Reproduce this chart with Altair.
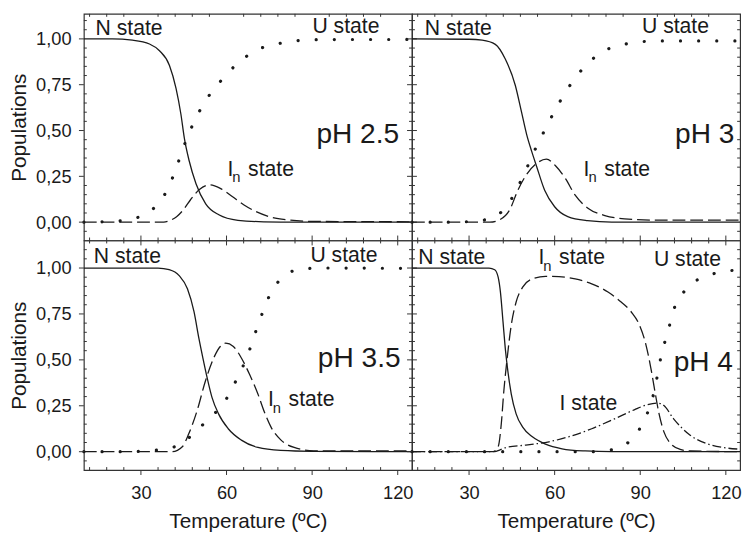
import altair as alt
import pandas as pd

FONT = "Liberation Sans"
INK = "#1a1a1a"
FRAME = "#333333"

# ---------------- axes ----------------
X_DOMAIN = [10, 125]
X_MAJOR = [30, 60, 90, 120]
X_MINOR = [12, 18, 24, 36, 42, 48, 54, 66, 72, 78, 84, 96, 102, 108, 114]
Y_MAJOR = [0.0, 0.25, 0.5, 0.75, 1.0]
Y_MINOR = [-0.05, 0.05, 0.1, 0.15, 0.2, 0.3, 0.35, 0.4, 0.45, 0.55, 0.6, 0.65,
           0.7, 0.8, 0.85, 0.9, 0.95, 1.05, 1.1]

# ---------------- pH 2.5 ----------------
T_N_25 = [10, 20, 27, 33, 36.5, 40, 42.3, 44, 45.2, 46.9, 49.3, 52.7, 57.3, 64, 73, 85, 125]
N_25 = [1.0, 1.0, 0.993, 0.972, 0.935, 0.855, 0.73, 0.59, 0.46, 0.335, 0.21, 0.10, 0.04, 0.01, 0.002, 0.0, 0.0]
T_IN_25 = [10, 38, 40, 42.5, 45, 47.5, 50.5, 54.2, 58, 62, 66, 70, 75, 81, 90, 125]
IN_25 = [0, 0, 0.008, 0.03, 0.07, 0.125, 0.178, 0.204, 0.183, 0.14, 0.095, 0.06, 0.03, 0.013, 0.004, 0.002]
T_U_25 = [10, 16.6, 22.7, 28.2, 33.1, 37.0, 39.9, 42.3, 44.5, 46.9, 49.5, 52.4, 55.7, 59.5,
          63.2, 67.2, 71.9, 77.3, 82.7, 89.0, 95.2, 125]
U_25 = [0, 0.002, 0.007, 0.022, 0.059, 0.118, 0.199, 0.292, 0.391, 0.487, 0.575, 0.656, 0.729,
        0.796, 0.857, 0.907, 0.948, 0.971, 0.986, 0.995, 0.996, 0.997]

# ---------------- pH 3 ----------------
T_N_3 = [10, 30, 34.6, 39.2, 42.7, 46.2, 48.4, 50.2, 51.9, 53.6, 56.5, 60, 64.6, 71.5, 80, 125]
N_3 = [1.0, 0.998, 0.993, 0.97, 0.89, 0.747, 0.60, 0.478, 0.389, 0.308, 0.174, 0.084, 0.03, 0.008, 0.0, 0.0]
T_IN_3 = [10, 37.3, 40.7, 44.2, 47.1, 49.9, 53.4, 57.1, 60.3, 63.8, 67.2, 71.8, 77.6, 84.5, 96, 125]
IN_3 = [0, 0, 0.013, 0.066, 0.174, 0.254, 0.317, 0.344, 0.308, 0.237, 0.147, 0.075, 0.036, 0.018, 0.011, 0.011]
T_U_3 = [10, 16.3, 22.7, 29.0, 35.0, 40.2, 43.8, 46.8, 49.6, 52.2, 54.8, 57.7, 60.6, 63.6,
         66.9, 70.3, 74.7, 79.2, 84.5, 90.2, 96.6, 125]
U_3 = [0, 0, 0, 0.002, 0.011, 0.041, 0.10, 0.183, 0.272, 0.366, 0.448, 0.539, 0.622, 0.706,
       0.778, 0.846, 0.907, 0.948, 0.971, 0.984, 0.989, 0.989]

# ---------------- pH 3.5 ----------------
T_N_35 = [10, 36, 39.9, 43.4, 46.3, 48.6, 50.3, 51.7, 53.2, 54.9, 57.2, 60.6, 65.2, 71, 79, 90, 125]
N_35 = [1.0, 1.0, 0.991, 0.959, 0.887, 0.762, 0.618, 0.511, 0.403, 0.296, 0.206, 0.125, 0.063,
        0.023, 0.007, 0.002, 0.0]
T_IN_35 = [10, 41, 44.5, 46.8, 49.7, 52.6, 55.5, 57.8, 59.7, 62.4, 65.2, 68.1, 71, 73.3, 75.6,
           79.1, 83.7, 90.6, 125]
IN_35 = [0, 0, 0.027, 0.099, 0.224, 0.385, 0.51, 0.573, 0.591, 0.573, 0.51, 0.42, 0.314, 0.215,
         0.134, 0.063, 0.023, 0.005, 0.004]
T_U_35 = [10, 16.7, 23.0, 29.3, 35.6, 41.1, 45.9, 49.7, 54.0, 57.5, 61.0, 63.6, 66.5, 68.8,
          70.9, 73.2, 75.7, 79.1, 83.3, 89.4, 95.5, 125]
U_35 = [0, 0, 0, 0.002, 0.009, 0.023, 0.063, 0.12, 0.179, 0.238, 0.314, 0.396, 0.491, 0.586,
        0.685, 0.78, 0.871, 0.941, 0.984, 0.998, 1.0, 0.998]

# ---------------- pH 4 ----------------
T_N_4 = [10, 37, 39, 40.2, 41.0, 41.9, 42.8, 43.6, 44.8, 46.5, 48.8, 52.2, 56.8, 62.6, 70.7, 80, 125]
N_4 = [1.0, 1.0, 0.991, 0.95, 0.869, 0.708, 0.547, 0.439, 0.314, 0.206, 0.134, 0.081, 0.041,
       0.016, 0.004, 0.0, 0.0]
T_IN_4 = [10, 38.4, 40.2, 41.3, 42.2, 43.3, 44.8, 46.5, 48.8, 52.2, 56.8, 61.5, 67.2, 73, 78.7,
          83.3, 86.8, 89.7, 92, 93.7, 95.1, 96.6, 98.3, 100.6, 104, 107.5, 125]
IN_4 = [0, 0, 0.027, 0.152, 0.332, 0.50, 0.69, 0.815, 0.896, 0.941, 0.955, 0.953, 0.941, 0.914,
        0.869, 0.815, 0.762, 0.69, 0.582, 0.457, 0.332, 0.206, 0.108, 0.045, 0.013, 0.004, 0.0]
T_I_4 = [10, 39, 40.7, 43, 49.9, 58, 64.9, 73, 81, 87.9, 92.5, 96, 98.3, 101.7, 107.5, 113.2, 119, 124.6]
I_4 = [0, 0, 0.009, 0.023, 0.036, 0.054, 0.081, 0.125, 0.179, 0.228, 0.256, 0.265, 0.251, 0.179,
       0.09, 0.045, 0.023, 0.014]
T_U_4 = [10, 16.3, 73.3, 79.4, 84.7, 88.6, 91.5, 94.0, 95.5, 96.7, 98.2, 100.0, 101.7, 104.6,
         108.4, 114.2, 120.7, 125]
U_4 = [0, 0, 0, 0.009, 0.038, 0.095, 0.177, 0.274, 0.373, 0.475, 0.573, 0.672, 0.771, 0.855,
       0.918, 0.962, 0.984, 0.99]

# ---------------- annotations (T, value) ----------------
LBL_25 = [("N state", 14.1, 1.02), ("U state", 90.1, 1.03)]
PH_25 = [("pH 2.5", 120.5, 0.434)]
IN_LBL_25 = [(60.3, 0.254)]

LBL_3 = [("N state", 14.5, 1.02), ("U state", 90.6, 1.03)]
PH_3 = [("pH 3", 123.0, 0.434)]
IN_LBL_3 = [(70.1, 0.254)]

LBL_35 = [("N state", 13.5, 1.027), ("U state", 89.4, 1.034)]
PH_35 = [("pH 3.5", 121.0, 0.46)]
IN_LBL_35 = [(74.5, 0.25)]

LBL_4 = [("N state", 12.2, 1.02), ("U state", 94.8, 1.013), ("I state", 61.7, 0.228)]
PH_4 = [("pH 4", 122.5, 0.44)]
IN_LBL_4 = [(54.3, 1.02)]

W = 333
SOLID = dict(strokeWidth=1.3)
DASHED = dict(strokeWidth=1.3, strokeDash=[13, 5])
DASHDOT = dict(strokeWidth=1.3, strokeDash=[9, 3, 1.5, 3])
DOTTED = dict(strokeWidth=3.2, strokeDash=[0.1, 18.3], strokeCap="round")
NO_PAD = {"left": 0, "right": 0, "top": 0, "bottom": 0}


def make_panel(curves, labels, ph, in_lbl, row, col):
    H = 230 if row == 0 else 233
    ydom = [-0.1, 1.1366] if row == 0 else [-0.1, 1.15]
    xs = alt.Scale(domain=X_DOMAIN, nice=False, zero=False)
    ys = alt.Scale(domain=ydom, nice=False, zero=False)
    if row == 1:
        xaxis = alt.Axis(values=X_MAJOR, ticks=False, tickSize=0, domain=False, grid=False,
                         labelFont=FONT, labelFontSize=18.5, labelColor=INK, labelPadding=14,
                         title="Temperature (ºC)", titleFont=FONT, titleFontSize=21,
                         titleFontWeight="normal", titleColor=INK, titlePadding=9)
    else:
        xaxis = None
    if col == 0:
        yaxis = alt.Axis(values=Y_MAJOR, ticks=False, tickSize=0, domain=False, grid=False,
                         labelFont=FONT, labelFontSize=18.5, labelColor=INK, labelPadding=13,
                         labelExpr="replace(format(datum.value, '.2f'), '.', ',')",
                         title="Populations", titleFont=FONT, titleFontSize=21,
                         titleFontWeight="normal", titleColor=INK, titlePadding=6)
    else:
        yaxis = None
    xenc = alt.X("T:Q", scale=xs, axis=xaxis)
    yenc = alt.Y("v:Q", scale=ys, axis=yaxis)

    layers = []
    for T, v, style in curves:
        df = pd.DataFrame({"T": T, "v": v})
        layers.append(alt.Chart(df).mark_line(color=INK, interpolate="monotone", **style)
                      .encode(x=xenc, y=yenc))

    # tick marks: major outward, minor inward, on all four sides
    xmaj = pd.DataFrame({"T": X_MAJOR})
    xmin = pd.DataFrame({"T": X_MINOR})
    ymaj = pd.DataFrame({"v": Y_MAJOR})
    ymin = pd.DataFrame({"v": Y_MINOR})
    rk = dict(color=FRAME, strokeWidth=1)
    layers += [
        alt.Chart(xmaj).mark_rule(**rk).encode(x=xenc, y=alt.value(H), y2=alt.value(H + 5)),
        alt.Chart(xmin).mark_rule(**rk).encode(x=xenc, y=alt.value(H - 3), y2=alt.value(H)),
        alt.Chart(xmin).mark_rule(**rk).encode(x=xenc, y=alt.value(0), y2=alt.value(3)),
        alt.Chart(ymaj).mark_rule(**rk).encode(y=yenc, x=alt.value(-5), x2=alt.value(0)),
        alt.Chart(ymin).mark_rule(**rk).encode(y=yenc, x=alt.value(0), x2=alt.value(3)),
        alt.Chart(ymin).mark_rule(**rk).encode(y=yenc, x=alt.value(W - 3), x2=alt.value(W)),
    ]
    if row == 1:
        layers.append(alt.Chart(xmaj).mark_rule(**rk).encode(x=xenc, y=alt.value(-5), y2=alt.value(0)))
    if col == 0:
        layers.append(alt.Chart(ymaj).mark_rule(**rk).encode(y=yenc, x=alt.value(W), x2=alt.value(W + 5)))

    # text annotations
    ldf = pd.DataFrame(labels, columns=["label", "T", "v"])
    layers.append(alt.Chart(ldf).mark_text(font=FONT, fontSize=21.5, align="left",
                                            baseline="alphabetic", color=INK)
                  .encode(x=xenc, y=yenc, text="label:N"))
    pdf = pd.DataFrame(ph, columns=["label", "T", "v"])
    layers.append(alt.Chart(pdf).mark_text(font=FONT, fontSize=28.5, align="right",
                                            baseline="alphabetic", color=INK)
                  .encode(x=xenc, y=yenc, text="label:N"))
    idf = pd.DataFrame(in_lbl, columns=["T", "v"])
    idf["a"] = "I"
    idf["b"] = "n"
    idf["c"] = "state"
    layers.append(alt.Chart(idf).mark_text(font=FONT, fontSize=21.5, align="left",
                                            baseline="alphabetic", color=INK)
                  .encode(x=xenc, y=yenc, text="a:N"))
    layers.append(alt.Chart(idf).mark_text(font=FONT, fontSize=15, align="left",
                                            baseline="alphabetic", color=INK, dx=5, dy=7)
                  .encode(x=xenc, y=yenc, text="b:N"))
    layers.append(alt.Chart(idf).mark_text(font=FONT, fontSize=21.5, align="left",
                                            baseline="alphabetic", color=INK, dx=21)
                  .encode(x=xenc, y=yenc, text="c:N"))

    return alt.layer(*layers).properties(width=W, height=H)


p25 = make_panel([(T_N_25, N_25, SOLID), (T_IN_25, IN_25, DASHED), (T_U_25, U_25, DOTTED)],
                 LBL_25, PH_25, IN_LBL_25, 0, 0)
p3 = make_panel([(T_N_3, N_3, SOLID), (T_IN_3, IN_3, DASHED), (T_U_3, U_3, DOTTED)],
                LBL_3, PH_3, IN_LBL_3, 0, 1)
p35 = make_panel([(T_N_35, N_35, SOLID), (T_IN_35, IN_35, DASHED), (T_U_35, U_35, DOTTED)],
                 LBL_35, PH_35, IN_LBL_35, 1, 0)
p4 = make_panel([(T_N_4, N_4, SOLID), (T_IN_4, IN_4, DASHED), (T_I_4, I_4, DASHDOT),
                 (T_U_4, U_4, DOTTED)],
                LBL_4, PH_4, IN_LBL_4, 1, 1)

chart = alt.concat(p25, p3, p35, p4, columns=2, spacing=0, bounds="flush").properties(
    padding=NO_PAD
).configure(background="white", padding=NO_PAD).configure_view(stroke=FRAME, strokeWidth=1.2)

chart.save("out.html", embed_options={"renderer": "svg", "actions": False})
